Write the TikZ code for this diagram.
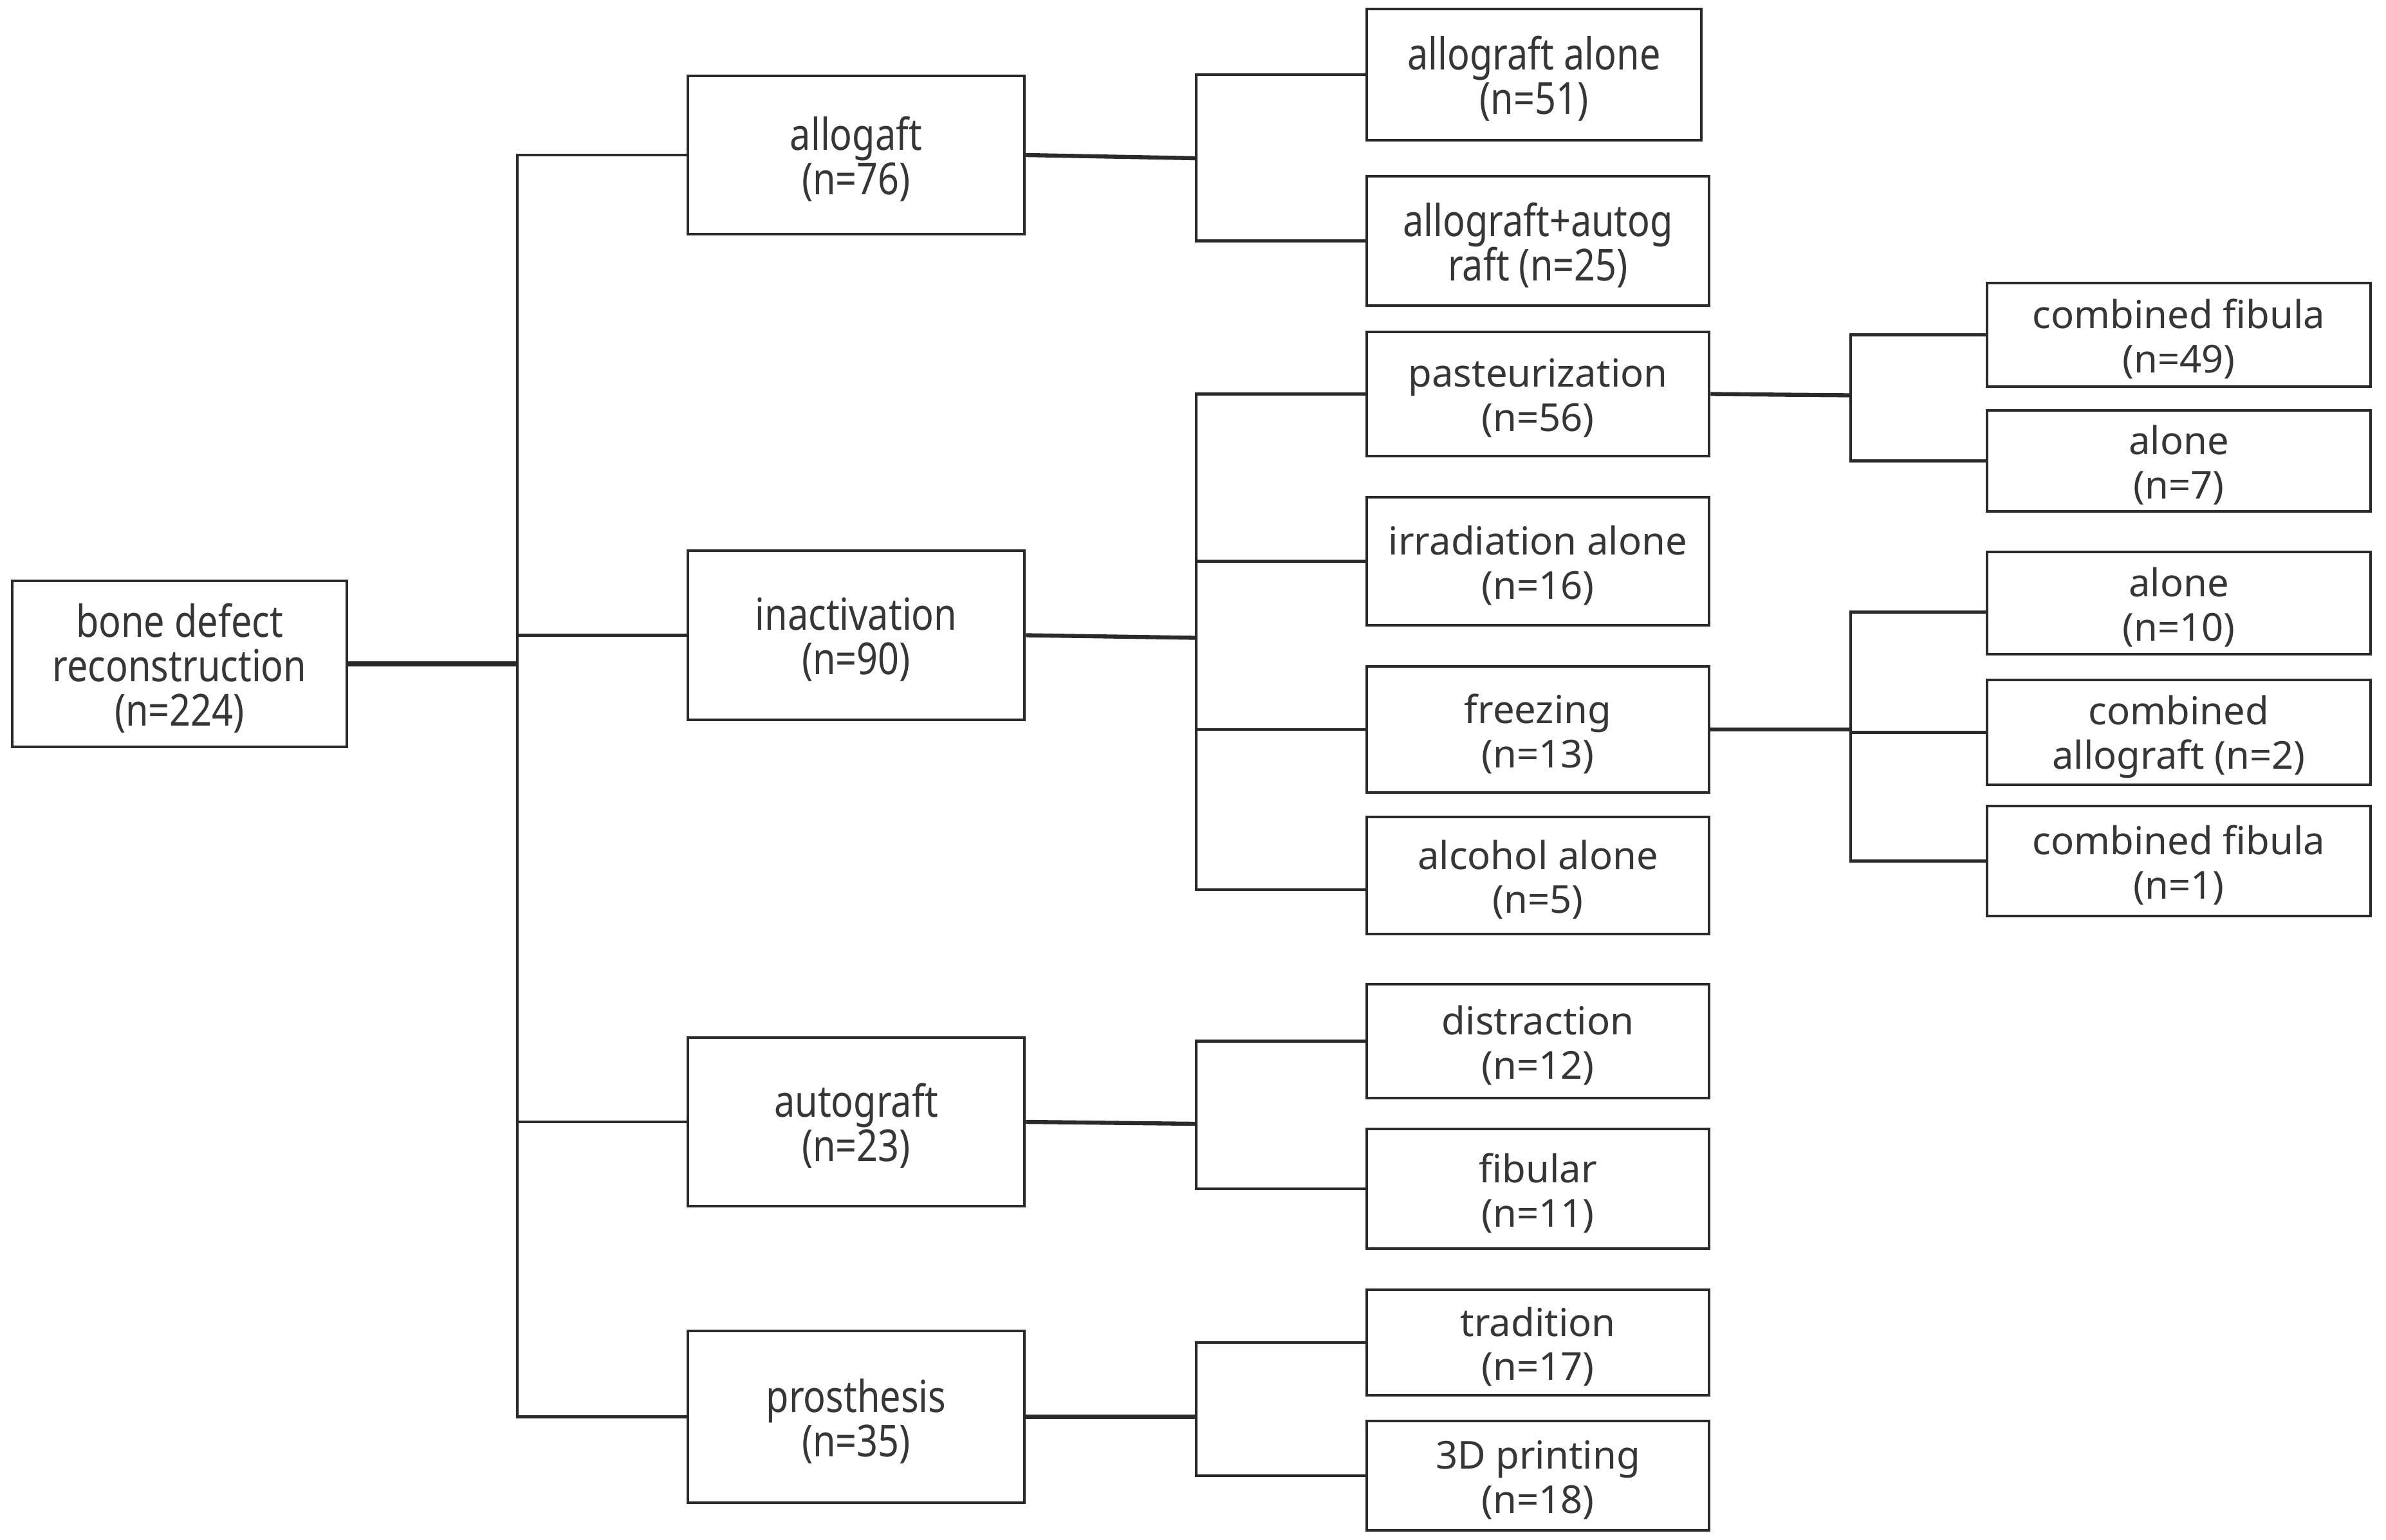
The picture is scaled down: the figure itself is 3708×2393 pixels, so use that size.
\documentclass[tikz,border=0pt]{standalone}
\usepackage{fontspec}
\setmainfont{Noto Sans}
\newfontfamily\condfont[FakeStretch=0.84]{Noto Sans}
\definecolor{linecol}{HTML}{2A2A2A}
\definecolor{txtcol}{HTML}{363636}
\tikzset{
  boxshape/.style={draw=linecol, line width=1.35pt, inner sep=0pt},
  txt/.style={text=txtcol, align=center, inner sep=0pt,
    font=\fontsize{17}{19.6}\selectfont},
  ctxt/.style={txt, font=\condfont\fontsize{19.5}{19.6}\selectfont},
  conn/.style={draw=linecol, line width=1.3pt},
  thickconn/.style={draw=linecol, line width=2.4pt},
  midconn/.style={draw=linecol, line width=1.8pt}
}
% #1 text style, #2 name, #3-#6 x1 y1 x2 y2 (px), #7 text
\newcommand\bx[7]{%
  \node[boxshape, minimum width={(#5-#3)*0.01cm}, minimum height={(#6-#4)*0.01cm}] (#2) at ({(#3+#5)/2},{(#4+#6)/2}) {};
  \node[#1] (#2-t) at ([yshift=-0.065cm]#2.center) {#7};}
\begin{document}
\begin{tikzpicture}[x=0.01cm,y=-0.01cm]
\useasboundingbox[fill=white] (0,0) rectangle (3708,2393);
% level 0
\bx{ctxt}{root}{19}{903}{539}{1161}{bone defect\\reconstruction\\(n=224)}
% level 1
\bx{ctxt}{A}{1069}{118}{1592}{364}{allogaft\\(n=76)}
\bx{ctxt}{I}{1069}{856}{1592}{1119}{inactivation\\(n=90)}
\bx{ctxt}{U}{1069}{1613}{1592}{1875}{autograft\\(n=23)}
\bx{ctxt}{P}{1069}{2069}{1592}{2336}{prosthesis\\(n=35)}
% level 2
\bx{ctxt}{aa}{2124}{14}{2644}{218}{allograft alone\\(n=51)}
\bx{ctxt}{aau}{2124}{274}{2656}{475}{allograft+autog\\raft (n=25)}
\bx{txt}{past}{2124}{516}{2656}{709}{pasteurization\\(n=56)}
\bx{txt}{irr}{2124}{773}{2656}{972}{irradiation alone\\(n=16)}
\bx{txt}{frz}{2124}{1036}{2656}{1232}{freezing\\(n=13)}
\bx{txt}{alc}{2124}{1270}{2656}{1452}{alcohol alone\\(n=5)}
\bx{txt}{dis}{2124}{1530}{2656}{1707}{distraction\\(n=12)}
\bx{txt}{fib}{2124}{1755}{2656}{1941}{fibular\\(n=11)}
\bx{txt}{tra}{2124}{2005}{2656}{2169}{tradition\\(n=17)}
\bx{txt}{tdp}{2124}{2209}{2656}{2379}{3D printing\\(n=18)}
% level 3
\bx{txt}{cfa}{3088}{440}{3684}{601}{combined fibula\\(n=49)}
\bx{txt}{ala}{3088}{638}{3684}{795}{alone\\ (n=7)}
\bx{txt}{alb}{3088}{858}{3684}{1017}{alone\\(n=10)}
\bx{txt}{cab}{3088}{1057}{3684}{1220}{combined\\allograft (n=2)}
\bx{txt}{cfb}{3088}{1253}{3684}{1424}{combined fibula\\(n=1)}
% junction columns
\coordinate (j1) at (804,0);
\coordinate (j2) at (1859,0);
\coordinate (j3) at (2876,0);
% level 0 -> 1
\draw[thickconn] (root.east) -- (root.east -| j1);
\draw[conn] (A.west) -- (A.west -| j1) -- (P.west -| j1) -- (P.west);
\draw[conn] (I.west) -- (I.west -| j1);
\draw[conn] (U.west) -- (U.west -| j1);
% allogaft
\coordinate (jA) at ([yshift=-0.05cm]A.east -| j2);
\draw[midconn] (A.east) -- (jA);
\draw[conn] (aa.west) -- (aa.west -| j2) -- (aau.west -| j2) -- (aau.west);
% inactivation
\coordinate (jI) at ([yshift=-0.04cm]I.east -| j2);
\coordinate (alcw) at ([yshift=-0.22cm]alc.west);
\draw[midconn] (I.east) -- (jI);
\draw[conn] (past.west) -- (past.west -| j2) -- (alcw -| j2) -- (alcw);
\draw[conn] (irr.west) -- (irr.west -| j2);
\draw[conn] (frz.west) -- (frz.west -| j2);
% autograft
\coordinate (jU) at ([yshift=-0.03cm]U.east -| j2);
\draw[midconn] (U.east) -- (jU);
\draw[conn] (dis.west) -- (dis.west -| j2) -- (fib.west -| j2) -- (fib.west);
% prosthesis
\draw[midconn] (P.east) -- (P.east -| j2);
\draw[conn] (tra.west) -- (tra.west -| j2) -- (tdp.west -| j2) -- (tdp.west);
% pasteurization
\coordinate (jpast) at ([yshift=-0.02cm]past.east -| j3);
\draw[midconn] (past.east) -- (jpast);
\draw[conn] (cfa.west) -- (cfa.west -| j3) -- (ala.west -| j3) -- (ala.west);
% freezing
\coordinate (albw) at ([yshift=-0.14cm]alb.west);
\draw[midconn] (frz.east) -- (frz.east -| j3);
\draw[conn] (albw) -- (albw -| j3) -- (cfb.west -| j3) -- (cfb.west);
\draw[conn] (cab.west) -- (cab.west -| j3);
\end{tikzpicture}
\end{document}
